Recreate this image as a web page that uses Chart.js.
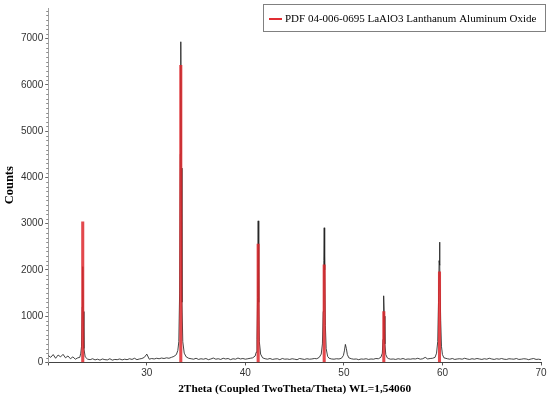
<!DOCTYPE html>
<html>
<head>
<meta charset="utf-8">
<script src="https://cdn.jsdelivr.net/npm/chart.js@4"></script>
<style>
  html, body { margin: 0; padding: 0; background: #fff; }
  #wrap { width: 550px; height: 397px; }
</style>
</head>
<body>
<div id="wrap"><canvas id="c" width="550" height="397"></canvas></div>
<script>
// Measured pattern (2Theta, counts)
const thetaValues = [
  20.0,20.25,20.5,20.75,21.0,21.25,21.5,21.75,22.0,22.25,22.5,22.75,23.0,
  23.2,23.3,23.38,23.45,23.5,23.55,23.62,23.75,24.0,
  24.25,24.5,24.75,25.0,25.25,25.5,25.75,26.0,26.25,26.5,26.75,27.0,27.25,27.5,27.75,28.0,28.25,28.5,28.75,29.0,29.25,29.5,29.75,
  30.0,30.25,30.5,30.75,31.0,31.25,31.5,31.75,32.0,32.25,32.5,32.75,33.0,33.15,
  33.25,33.33,33.4,33.45,33.5,33.57,33.65,33.8,34.0,
  34.25,34.5,34.75,35.0,35.25,35.5,35.75,36.0,36.25,36.5,36.75,37.0,37.25,37.5,37.75,38.0,38.25,38.5,38.75,39.0,39.25,39.5,39.75,40.0,40.25,40.5,40.75,41.0,41.1,
  41.18,41.24,41.3,41.36,41.42,41.55,41.75,
  42.0,42.25,42.5,42.75,43.0,43.25,43.5,43.75,44.0,44.25,44.5,44.75,45.0,45.25,45.5,45.75,46.0,46.25,46.5,46.75,47.0,47.25,47.5,47.7,47.82,
  47.9,47.96,48.0,48.05,48.12,48.2,48.35,48.5,
  48.75,49.0,49.25,49.5,49.75,49.95,50.05,50.15,50.25,50.35,50.5,50.75,51.0,51.25,
  51.5,51.75,52.0,52.25,52.5,52.75,53.0,53.25,53.5,53.75,53.9,
  53.97,54.02,54.05,54.1,54.16,54.25,54.4,
  54.5,54.75,55.0,55.25,55.5,55.75,56.0,56.25,56.5,56.75,57.0,57.25,57.5,57.75,58.0,58.25,58.5,58.75,59.0,59.25,59.4,59.52,
  59.6,59.66,59.7,59.75,59.82,59.9,60.0,60.15,
  60.5,60.75,61.0,61.25,61.5,61.75,62.0,62.25,62.5,62.75,63.0,63.25,63.5,63.75,64.0,64.25,64.5,64.75,65.0,65.25,65.5,65.75,66.0,66.25,66.5,66.75,67.0,67.25,67.5,67.75,68.0,68.25,68.5,68.75,69.0,69.25,69.5,69.75,70.0
];
const countValues = [
  150,110,170,90,160,120,175,100,140,80,120,70,100,
  110,200,350,1200,2070,1100,300,120,70,
  60,80,55,70,50,75,60,55,80,50,65,60,75,55,70,60,80,65,90,60,75,85,110,
  180,70,85,75,90,80,95,85,100,90,110,130,170,260,
  450,1500,4500,6930,4200,1300,450,200,120,
  90,80,70,90,65,80,70,85,60,75,95,70,80,65,90,75,85,60,80,70,95,75,85,70,80,90,100,140,220,
  500,1400,3060,1300,450,180,100,
  80,70,85,65,75,80,60,85,70,75,65,80,70,60,85,75,65,80,70,75,85,80,110,180,400,
  1100,2200,2910,2000,800,300,130,90,
  75,70,80,75,90,150,250,390,300,170,100,80,70,75,
  60,75,70,80,65,75,70,85,80,110,200,
  500,1100,1440,1000,400,170,100,
  85,70,75,65,80,70,85,65,75,70,80,75,90,70,80,110,75,85,90,110,200,450,
  1300,2200,2600,2100,900,350,170,100,
  80,70,85,65,75,80,70,90,75,65,80,70,85,75,65,80,70,90,75,65,80,70,85,70,65,80,75,70,85,65,70,80,75,60,75,85,65,70,60
];
// Reference pattern PDF 04-006-0695 (stick positions and heights)
const refTheta = [23.5, 33.45, 41.3, 48.0, 54.05, 59.7];
const refCounts = [3040, 6420, 2560, 2110, 1100, 1960];
const xTickValues = [20, 30, 40, 50, 60, 70];
const yTickValues = [0, 1000, 2000, 3000, 4000, 5000, 6000, 7000];

const measured = thetaValues.map((t, i) => ({ x: t, y: countValues[i] }));
const reference = refTheta.map((t, i) => ({ x: t, y: refCounts[i] }));

const minorTicks = {
  id: 'minorTicks',
  afterDraw(chart) {
    const ctx = chart.ctx;
    const ys = chart.scales.y;
    ctx.save();
    ctx.strokeStyle = '#8a8a8a';
    ctx.lineWidth = 1;
    ctx.beginPath();
    for (let v = 100; v < ys.max; v += 100) {
      if (v % 1000 === 0) continue;
      const py = Math.round(ys.getPixelForValue(v)) + 0.5;
      ctx.moveTo(ys.right - 2, py);
      ctx.lineTo(ys.right, py);
    }
    ctx.stroke();
    ctx.restore();
  }
};

const legendBox = {
  id: 'legendBox',
  afterDraw(chart) {
    const ds = chart.data.datasets[0];
    const ctx = chart.ctx;
    ctx.save();
    ctx.fillStyle = '#fff';
    ctx.fillRect(264, 5, 281, 26);
    ctx.strokeStyle = '#808080';
    ctx.lineWidth = 1;
    ctx.strokeRect(263.5, 4.5, 282, 27);
    ctx.fillStyle = 'rgb(225,45,50)';
    ctx.fillRect(269, 18, 13, 2);
    ctx.fillStyle = '#000';
    ctx.font = '11px "Liberation Serif"';
    ctx.textBaseline = 'middle';
    ctx.textAlign = 'left';
    ctx.fillText(ds.label, 285, 19);
    ctx.restore();
  }
};

new Chart(document.getElementById('c'), {
  type: 'line',
  data: {
    datasets: [
      {
        type: 'bar',
        label: 'PDF 04-006-0695 LaAlO3 Lanthanum Aluminum Oxide',
        data: reference,
        backgroundColor: 'rgba(222,40,45,0.85)',
        borderWidth: 0,
        barThickness: 2.4,
        grouped: false,
        order: 0
      },
      {
        type: 'line',
        label: 'measured',
        data: measured,
        borderColor: 'rgba(35,35,35,0.85)',
        borderWidth: 1,
        pointRadius: 0,
        tension: 0,
        fill: false,
        order: 1
      }
    ]
  },
  options: {
    responsive: false,
    animation: false,
    layout: { padding: { left: 2, right: 9, top: 0, bottom: 1 } },
    plugins: {
      tooltip: { enabled: false },
      legend: { display: false }
    },
    scales: {
      x: {
        type: 'linear',
        min: 20,
        max: 70,
        offset: false,
        afterBuildTicks: (s) => { s.ticks = xTickValues.map(v => ({ value: v })); },
        ticks: {
          callback: (v) => (v === 20 ? '' : String(v)),
          color: '#333',
          font: { family: 'Liberation Sans', size: 10 },
          maxRotation: 0,
          padding: 2
        },
        grid: { drawOnChartArea: false, offset: false, tickLength: 3, color: '#555' },
        border: { color: '#444', width: 1 },
        title: {
          display: true,
          text: '2Theta (Coupled TwoTheta/Theta) WL=1,54060',
          color: '#000',
          font: { family: 'Liberation Serif', size: 11.3, weight: 'bold' },
          padding: { top: 1, bottom: 0 }
        }
      },
      y: {
        type: 'linear',
        min: 0,
        max: 7660,
        afterBuildTicks: (s) => { s.ticks = yTickValues.map(v => ({ value: v })); },
        ticks: {
          callback: (v) => String(v),
          color: '#333',
          font: { family: 'Liberation Sans', size: 10 },
          padding: 2
        },
        grid: { drawOnChartArea: false, tickLength: 3, color: '#666' },
        border: { color: '#a0a0a0', width: 1 },
        title: {
          display: true,
          text: 'Counts',
          color: '#000',
          font: { family: 'Liberation Serif', size: 12.5, weight: 'bold' },
          padding: { top: 0, bottom: 2 }
        }
      }
    }
  },
  plugins: [minorTicks, legendBox]
});
</script>
</body>
</html>
